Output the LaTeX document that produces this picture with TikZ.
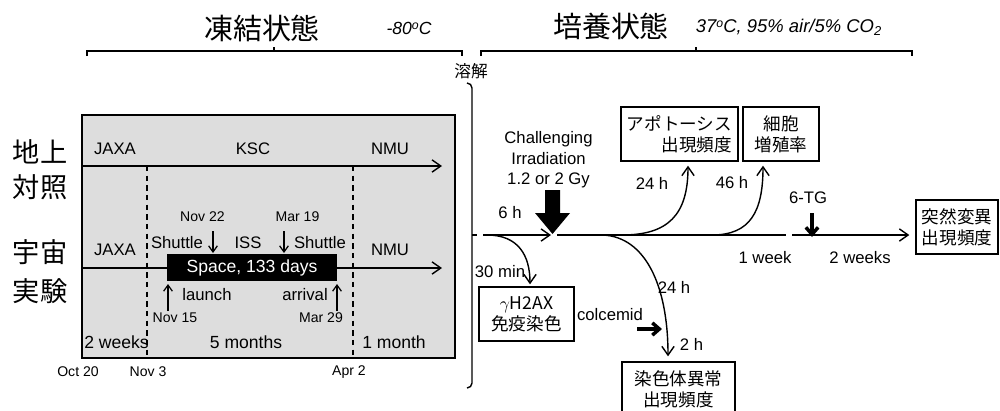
\documentclass[tikz,border=0pt]{standalone}
\usepackage{fontspec}
\setmainfont{Liberation Sans}
\newfontfamily\jp{Noto Sans CJK JP}
\usetikzlibrary{arrows.meta}
\definecolor{panelgray}{RGB}{221,221,221}
\tikzset{
  ln/.style={line width=0.8pt},
  arr/.style={ln,-{Straight Barb[length=5pt,width=7pt]}},
  sarr/.style={line width=0.7pt,-{Straight Barb[length=3.5pt,width=5pt]}},
  tarr/.style={line width=2pt,-{Straight Barb[length=4pt,width=7pt,line width=2pt]}},
  lbl/.style={inner sep=0pt,font=\fontsize{9.5}{11.5}\selectfont},
  dlbl/.style={inner sep=0pt,font=\fontsize{8}{10}\selectfont},
  big/.style={inner sep=0pt,font=\jp\fontsize{16.5}{20}\selectfont},
  side/.style={inner sep=0pt,font=\jp\fontsize{15.5}{18}\selectfont},
  jbox/.style={draw,ln,inner sep=0pt,align=center,font=\jp\fontsize{10}{11.8}\selectfont},
  dashln/.style={ln,dash pattern=on 3pt off 2.5pt},
}
\begin{document}
\begin{tikzpicture}[x=0.02cm,y=-0.02cm]
\useasboundingbox (0,0) rectangle (1000,410);

% ---------- headers ----------
\node[big] (frz) at (262,28) {凍結状態};
\node[inner sep=0pt,font=\itshape\fontsize{10}{12}\selectfont] (m80) at (409,28) {-80\raisebox{0.5ex}{\fontsize{7}{8}\selectfont o}C};
\node[big] (cul) at (611,26) {培養状態};
\node[inner sep=0pt,font=\itshape\fontsize{10.5}{12}\selectfont] (cond) at (789,27) {37\raisebox{0.5ex}{\fontsize{7}{8}\selectfont o}C, 95\% air/5\% CO\textsubscript{2}};
\draw[ln] (87,56) -- (87,51) -- (462,51) -- (462,56);
\draw[ln] (274,51) -- (274,47);
\draw[ln] (481,56) -- (481,51) -- (912,51) -- (912,56);
\draw[ln] (696,51) -- (696,47);
\node[inner sep=0pt,font=\jp\fontsize{9.5}{11}\selectfont] (thaw) at (471,71) {溶解};
\draw[ln] (467,83) to[out=0,in=90] (472,88) -- (472,383) to[out=-90,in=0] (467,388);

% ---------- left panel ----------
\fill[panelgray] (82,115) rectangle (455,358);
\draw[ln] (82,115) rectangle (455,358);
\node[side] (g1) at (40,152) {地上};
\node[side] (g2) at (40,187) {対照};
\node[side] (s1) at (40,252) {宇宙};
\node[side] (s2) at (40,291) {実験};

\coordinate (r1a) at (82,166);
\coordinate (r1b) at (442,166);
\draw[arr] (r1a) -- (r1b);
\node[lbl] (jaxa1) at (115,149) {JAXA};
\node[lbl] (ksc) at (253,149) {KSC};
\node[lbl] (nmu1) at (390,149) {NMU};

\draw[dashln] (147,166) -- (147,358);
\draw[dashln] (353,166) -- (353,358);

\coordinate (r2a) at (82,268);
\coordinate (r2b) at (442,268);
\draw[arr] (r2a) -- (r2b);
\node[fill=black,text=white,inner sep=0pt,minimum width=3.4cm,minimum height=0.54cm,font=\fontsize{10}{12}\selectfont] (space) at (252,267.5) {Space, 133 days};
\node[lbl] (jaxa2) at (115,250) {JAXA};
\node[lbl] (nmu2) at (390,250) {NMU};
\node[lbl] (sh1) at (177,243) {Shuttle};
\node[lbl] (iss) at (248,243) {ISS};
\node[lbl] (sh2) at (320,243) {Shuttle};
\node[dlbl] (n22) at (202.5,217) {Nov 22};
\node[dlbl] (m19) at (297.5,217) {Mar 19};
\draw[sarr] (213,231) -- (213,253);
\draw[sarr] (284,231) -- (284,253);
\draw[sarr] (168,311) -- (168,284);
\draw[sarr] (337,311) -- (337,284);
\node[lbl] (launch) at (207,295) {launch};
\node[lbl] (arrival) at (305,295) {arrival};
\node[dlbl] (n15) at (175,318) {Nov 15};
\node[dlbl] (m29) at (321,318) {Mar 29};
\node[lbl,font=\fontsize{10}{12}\selectfont] (w2) at (116.5,342) {2 weeks};
\node[lbl,font=\fontsize{10}{12}\selectfont] (m5) at (246,342) {5 months};
\node[lbl,font=\fontsize{10}{12}\selectfont] (m1) at (394,342) {1 month};
\node[dlbl] (o20) at (78,372) {Oct 20};
\node[dlbl] (n3) at (148,372) {Nov 3};
\node[dlbl] (a2) at (349,372) {Apr 2};

% ---------- right part ----------
\node[lbl,align=center,font=\fontsize{9.5}{11.6}\selectfont] (chal) at (548.5,160) {Challenging\\Irradiation\\1.2 or 2 Gy};
\node[lbl] (h6) at (510,213) {6 h};
\fill (545,190) -- (560,190) -- (560,213) -- (570,213) -- (552.5,234) -- (535,213) -- (545,213) -- cycle;

\coordinate (m0) at (472,235);
\coordinate (m0b) at (477,235);
\coordinate (m1a) at (483,235);
\coordinate (irr) at (551,235);
\coordinate (m2a) at (557,235);
\coordinate (m2b) at (786,235);
\coordinate (m3a) at (792,235);
\draw[ln] (m0) -- (m0b);
\draw[arr] (m1a) -- (irr);
\draw[ln] (m2a) -- (m2b);

\node[jbox,minimum width=2.34cm,minimum height=1.08cm,align=right] (apop) at (679.5,134) {アポトーシス\\出現頻度};
\node[jbox,minimum width=1.52cm,minimum height=1.08cm] (prol) at (781,134) {細胞\\増殖率};
\node[jbox,minimum width=1.64cm,minimum height=1.08cm] (mut) at (957,227) {突然変異\\出現頻度};
\node[jbox,minimum width=1.9cm,minimum height=1.08cm] (h2ax) at (526.5,314) {$\gamma$H2AX\\免疫染色};
\node[jbox,minimum width=2.26cm,minimum height=1.08cm] (chrom) at (678.5,389) {染色体異常\\出現頻度};

\draw[arr,shorten >=0.12cm] (m3a) -- (m3a -| mut.west);

\draw[arr] (622,235) .. controls (668,235) and (688,215) .. ([xshift=0.17cm,yshift=-0.08cm]apop.south);
\draw[arr] (712,235) .. controls (750,235) and (763,212) .. ([xshift=-0.36cm,yshift=-0.08cm]prol.south);
\draw[arr] (487,235) .. controls (518,235) and (530,255) .. ([xshift=0.07cm,yshift=0.04cm]h2ax.north);
\draw[arr] (603,235) .. controls (645,237) and (668,285) .. ([xshift=-0.21cm,yshift=0.1cm]chrom.north);

\node[lbl] (t24a) at (652,183) {24 h};
\node[lbl] (t46) at (732,183) {46 h};
\node[lbl] (tg) at (808,198) {6-TG};
\draw[tarr] (812,213) -- (812,237);
\node[lbl] (wk1) at (765,258) {1 week};
\node[lbl] (wk2) at (860,258) {2 weeks};
\node[lbl] (t30) at (500,272) {30 min};
\node[lbl] (colc) at (610,315) {colcemid};
\draw[tarr] (637,329) -- (662,329);
\node[lbl] (t24b) at (674,287) {24 h};
\node[lbl] (t2) at (691.5,344) {2 h};
\end{tikzpicture}
\end{document}
